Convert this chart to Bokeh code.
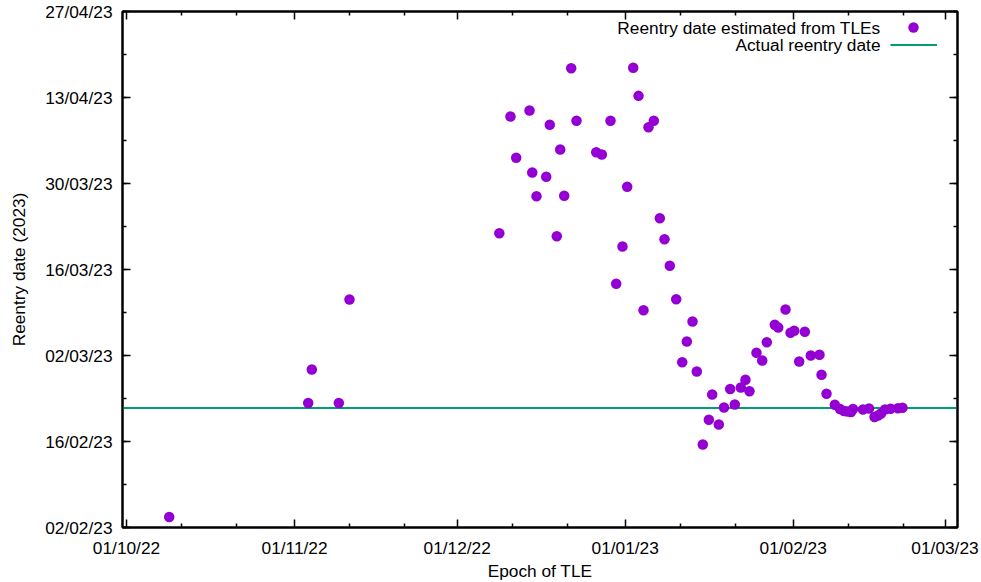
import pandas as pd
from bokeh.plotting import figure
from bokeh.models import (FixedTicker, DatetimeTickFormatter, DatetimeAxis, Range1d,
                          Legend, LegendItem, Label, ColumnDataSource, CustomJSTickFormatter)
from bokeh.embed import file_html
from bokeh.resources import INLINE

# ---- data ----
# TLE epoch, in days since 2022-10-01 00:00 UTC
tle_epoch_days = [7.88, 33.52, 34.19, 39.17, 41.14, 68.78, 70.84, 71.89, 74.35, 74.85,
                  75.64, 77.43, 78.09, 79.38, 80.01, 80.75, 82.04, 83.02, 86.65, 87.69,
                  89.29, 90.34, 91.50, 92.37, 93.48, 94.46, 95.38, 96.30, 97.28, 98.39,
                  99.25, 100.23, 101.41, 102.52, 103.37, 104.42, 105.21, 106.32, 107.43, 108.05,
                  109.27, 110.23, 111.37, 112.22, 113.33, 114.19, 114.93, 116.22, 117.28, 118.13,
                  119.60, 120.23, 121.58, 122.50, 123.18, 124.10, 125.14, 126.24, 127.85, 128.22,
                  129.14, 130.67, 131.63, 132.37, 133.01, 133.66, 134.03, 135.87, 136.98, 138.00,
                  138.64, 139.19, 139.93, 140.95, 142.33, 143.16]
# Estimated reentry date, in days since 2023-02-02 00:00 UTC
reentry_est_days = [1.71, 20.28, 25.72, 20.28, 37.12, 47.91, 66.91, 60.18, 67.88, 57.79,
                    53.93, 57.09, 65.55, 47.42, 61.53, 54.00, 74.77, 66.21, 61.09, 60.72,
                    66.21, 39.67, 45.74, 55.46, 74.83, 70.27, 35.37, 65.16, 66.21, 50.35,
                    46.93, 42.60, 37.16, 26.91, 30.28, 33.53, 25.39, 13.51, 17.53, 21.65,
                    16.77, 19.53, 22.55, 20.02, 22.79, 24.04, 22.19, 28.44, 27.19, 30.16,
                    33.00, 32.56, 35.49, 31.69, 32.02, 27.02, 31.86, 28.00, 28.11, 24.86,
                    21.76, 19.97, 19.29, 18.96, 18.88, 18.80, 19.29, 19.21, 19.37, 17.99,
                    18.23, 18.56, 19.21, 19.32, 19.42, 19.49]
actual_reentry = "2023-02-21 11:00"

x_origin = "2022-10-01"
y_origin = "2023-02-02"
x_major_dates = ["2022-10-01", "2022-11-01", "2022-12-01", "2023-01-01", "2023-02-01", "2023-03-01"]
y_first, y_last = "2023-02-02", "2023-04-27"

series_label = "Reentry date estimated from TLEs"
line_label = "Actual reentry date"
x_title = "Epoch of TLE"
y_title = "Reentry date (2023)"


def ms(t):
    return pd.Timestamp(t).value / 1e6


DAY = 86400000.0
xs = [ms(x_origin) + d * DAY for d in tle_epoch_days]
ys = [ms(y_origin) + d * DAY for d in reentry_est_days]
src = ColumnDataSource(dict(x=xs, y=ys))

x_start = ms("2022-09-30 06:17")
x_end = ms("2023-03-03 07:20")
y_start = ms(y_first)
y_end = ms(y_last)

FONT = "Liberation Sans"
FS = "17.3px"

p = figure(frame_width=835, frame_height=516, x_axis_type="datetime", y_axis_type="datetime",
           x_range=Range1d(x_start, x_end), y_range=Range1d(y_start, y_end),
           output_backend="svg", toolbar_location=None,
           min_border_left=122, min_border_right=24, min_border_top=11, min_border_bottom=55)
p.background_fill_color = "white"
p.border_fill_color = "white"
p.outline_line_color = "black"
p.outline_line_width = 2
p.xgrid.visible = False
p.ygrid.visible = False

# ticks
x_major = [ms(d) for d in x_major_dates]
x_minor = []
for m in x_major:
    for k in (1, 2):
        t = m + k * 10.147 * DAY
        if t < x_end:
            x_minor.append(t)
y_major = [ms(t) for t in pd.date_range(y_first, y_last, freq="14D")]
y_minor = [ms(t) for t in pd.date_range(y_first, y_last, freq="7D")]
xticker = FixedTicker(ticks=x_major, minor_ticks=x_minor)
yticker = FixedTicker(ticks=y_major, minor_ticks=y_minor)
fmt = "%d/%m/%y"
formatter = DatetimeTickFormatter(microseconds=fmt, milliseconds=fmt, seconds=fmt, minsec=fmt,
                                  minutes=fmt, hourmin=fmt, hours=fmt, days=fmt, months=fmt, years=fmt)
blank = CustomJSTickFormatter(code="return ''")


def style_axis(ax, ticker, show_labels):
    ax.ticker = ticker
    ax.axis_line_color = "black"
    ax.axis_line_width = 2
    ax.major_tick_in = 8
    ax.major_tick_out = 0
    ax.minor_tick_in = 4
    ax.minor_tick_out = 0
    ax.major_tick_line_width = 1.5
    ax.minor_tick_line_width = 1.5
    ax.major_tick_line_color = "black"
    ax.minor_tick_line_color = "black"
    if show_labels:
        ax.formatter = formatter
        ax.major_label_text_font = FONT
        ax.major_label_text_font_size = FS
        ax.major_label_text_color = "black"
        ax.axis_label_text_font = FONT
        ax.axis_label_text_font_size = FS
        ax.axis_label_text_font_style = "normal"
        ax.axis_label_text_color = "black"
    else:
        ax.formatter = blank
        ax.major_label_standoff = 0


style_axis(p.xaxis[0], xticker, True)
style_axis(p.yaxis[0], yticker, True)
p.xaxis[0].axis_label = x_title
p.xaxis[0].major_label_standoff = 10
p.xaxis[0].axis_label_standoff = 0
p.yaxis[0].axis_label = y_title
p.yaxis[0].major_label_standoff = 10
p.yaxis[0].axis_label_standoff = 13

top_ax = DatetimeAxis()
style_axis(top_ax, xticker, False)
p.add_layout(top_ax, "above")
right_ax = DatetimeAxis()
style_axis(right_ax, yticker, False)
p.add_layout(right_ax, "right")

# data
line_r = p.line(x=[x_start, x_end], y=[ms(actual_reentry)] * 2, line_color="#009E73", line_width=2)
pts_r = p.scatter(x="x", y="y", source=src, size=10.5, fill_color="#9400D3", line_color=None)

# legend (gnuplot style: text left, symbol right)
leg1 = Legend(items=[LegendItem(label="", renderers=[pts_r])], location=(778, 487),
              glyph_width=26, glyph_height=26, label_width=0, label_height=0, label_standoff=0,
              label_text_font_size="1px", padding=0, margin=0, spacing=0,
              border_line_color=None, background_fill_alpha=0)
leg2 = Legend(items=[LegendItem(label="", renderers=[line_r])], location=(768, 474),
              glyph_width=47, glyph_height=17, label_width=0, label_height=0, label_standoff=0,
              label_text_font_size="1px", padding=0, margin=0, spacing=0,
              border_line_color=None, background_fill_alpha=0)
p.add_layout(leg1)
p.add_layout(leg2)
for txt, yy in ((series_label, 500), (line_label, 483)):
    p.add_layout(Label(x=758, y=yy, x_units="screen", y_units="screen", text=txt,
                       text_align="right", text_baseline="middle", text_font=FONT,
                       text_font_size=FS, text_color="black"))

open("out.html", "w").write(file_html(p, INLINE))
